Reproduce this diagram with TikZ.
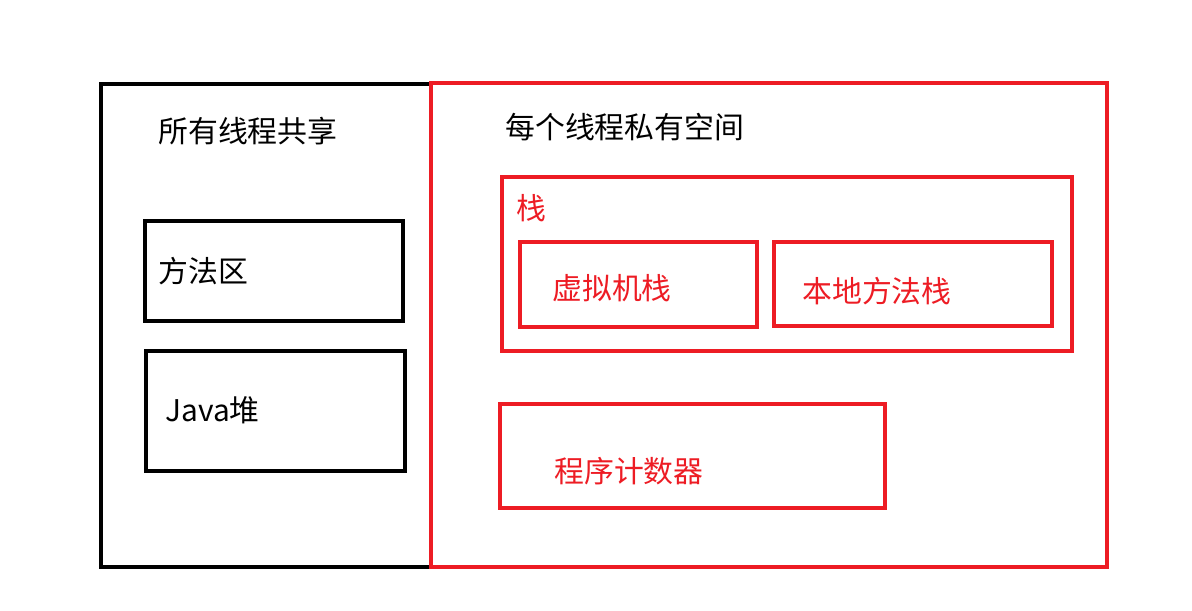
\documentclass[tikz,border=0pt]{standalone}
\usepackage{fontspec}
\setmainfont{Noto Sans CJK SC}
\usepackage{tikz}
\definecolor{paintred}{HTML}{ED1C24}

\tikzset{
  box/.style={line width=0.08cm},
  lbl/.style={anchor=west,inner sep=0pt,font=\fontsize{17}{20}\selectfont}
}

\begin{document}
\begin{tikzpicture}[x=0.02cm,y=-0.02cm]
  \useasboundingbox (0,0) rectangle (1192,611);
  % shared area
  \draw[box,black] (101,84) rectangle (431,567);
  \node[lbl] (shared) at (158,131) {所有线程共享};
  \draw[box,black] (145,221) rectangle (403,321);
  \node[lbl] (method) at (158,271) {方法区};
  \draw[box,black] (146,351) rectangle (405,471);
  \node[lbl] (heap) at (165,410) {Java堆};
  % private area
  \draw[box,paintred] (431,83) rectangle (1107,567);
  \node[lbl] (private) at (505,127) {每个线程私有空间};
  \draw[box,paintred] (502,177) rectangle (1072,351);
  \node[lbl,paintred] (stack) at (516,208) {栈};
  \draw[box,paintred] (520,242) rectangle (757,327);
  \node[lbl,paintred] (vmstack) at (552,288) {虚拟机栈};
  \draw[box,paintred] (774,242) rectangle (1052,326);
  \node[lbl,paintred] (native) at (802,291) {本地方法栈};
  \draw[box,paintred] (500,404) rectangle (885,508);
  \node[lbl,paintred] (pc) at (554,471) {程序计数器};
\end{tikzpicture}
\end{document}
